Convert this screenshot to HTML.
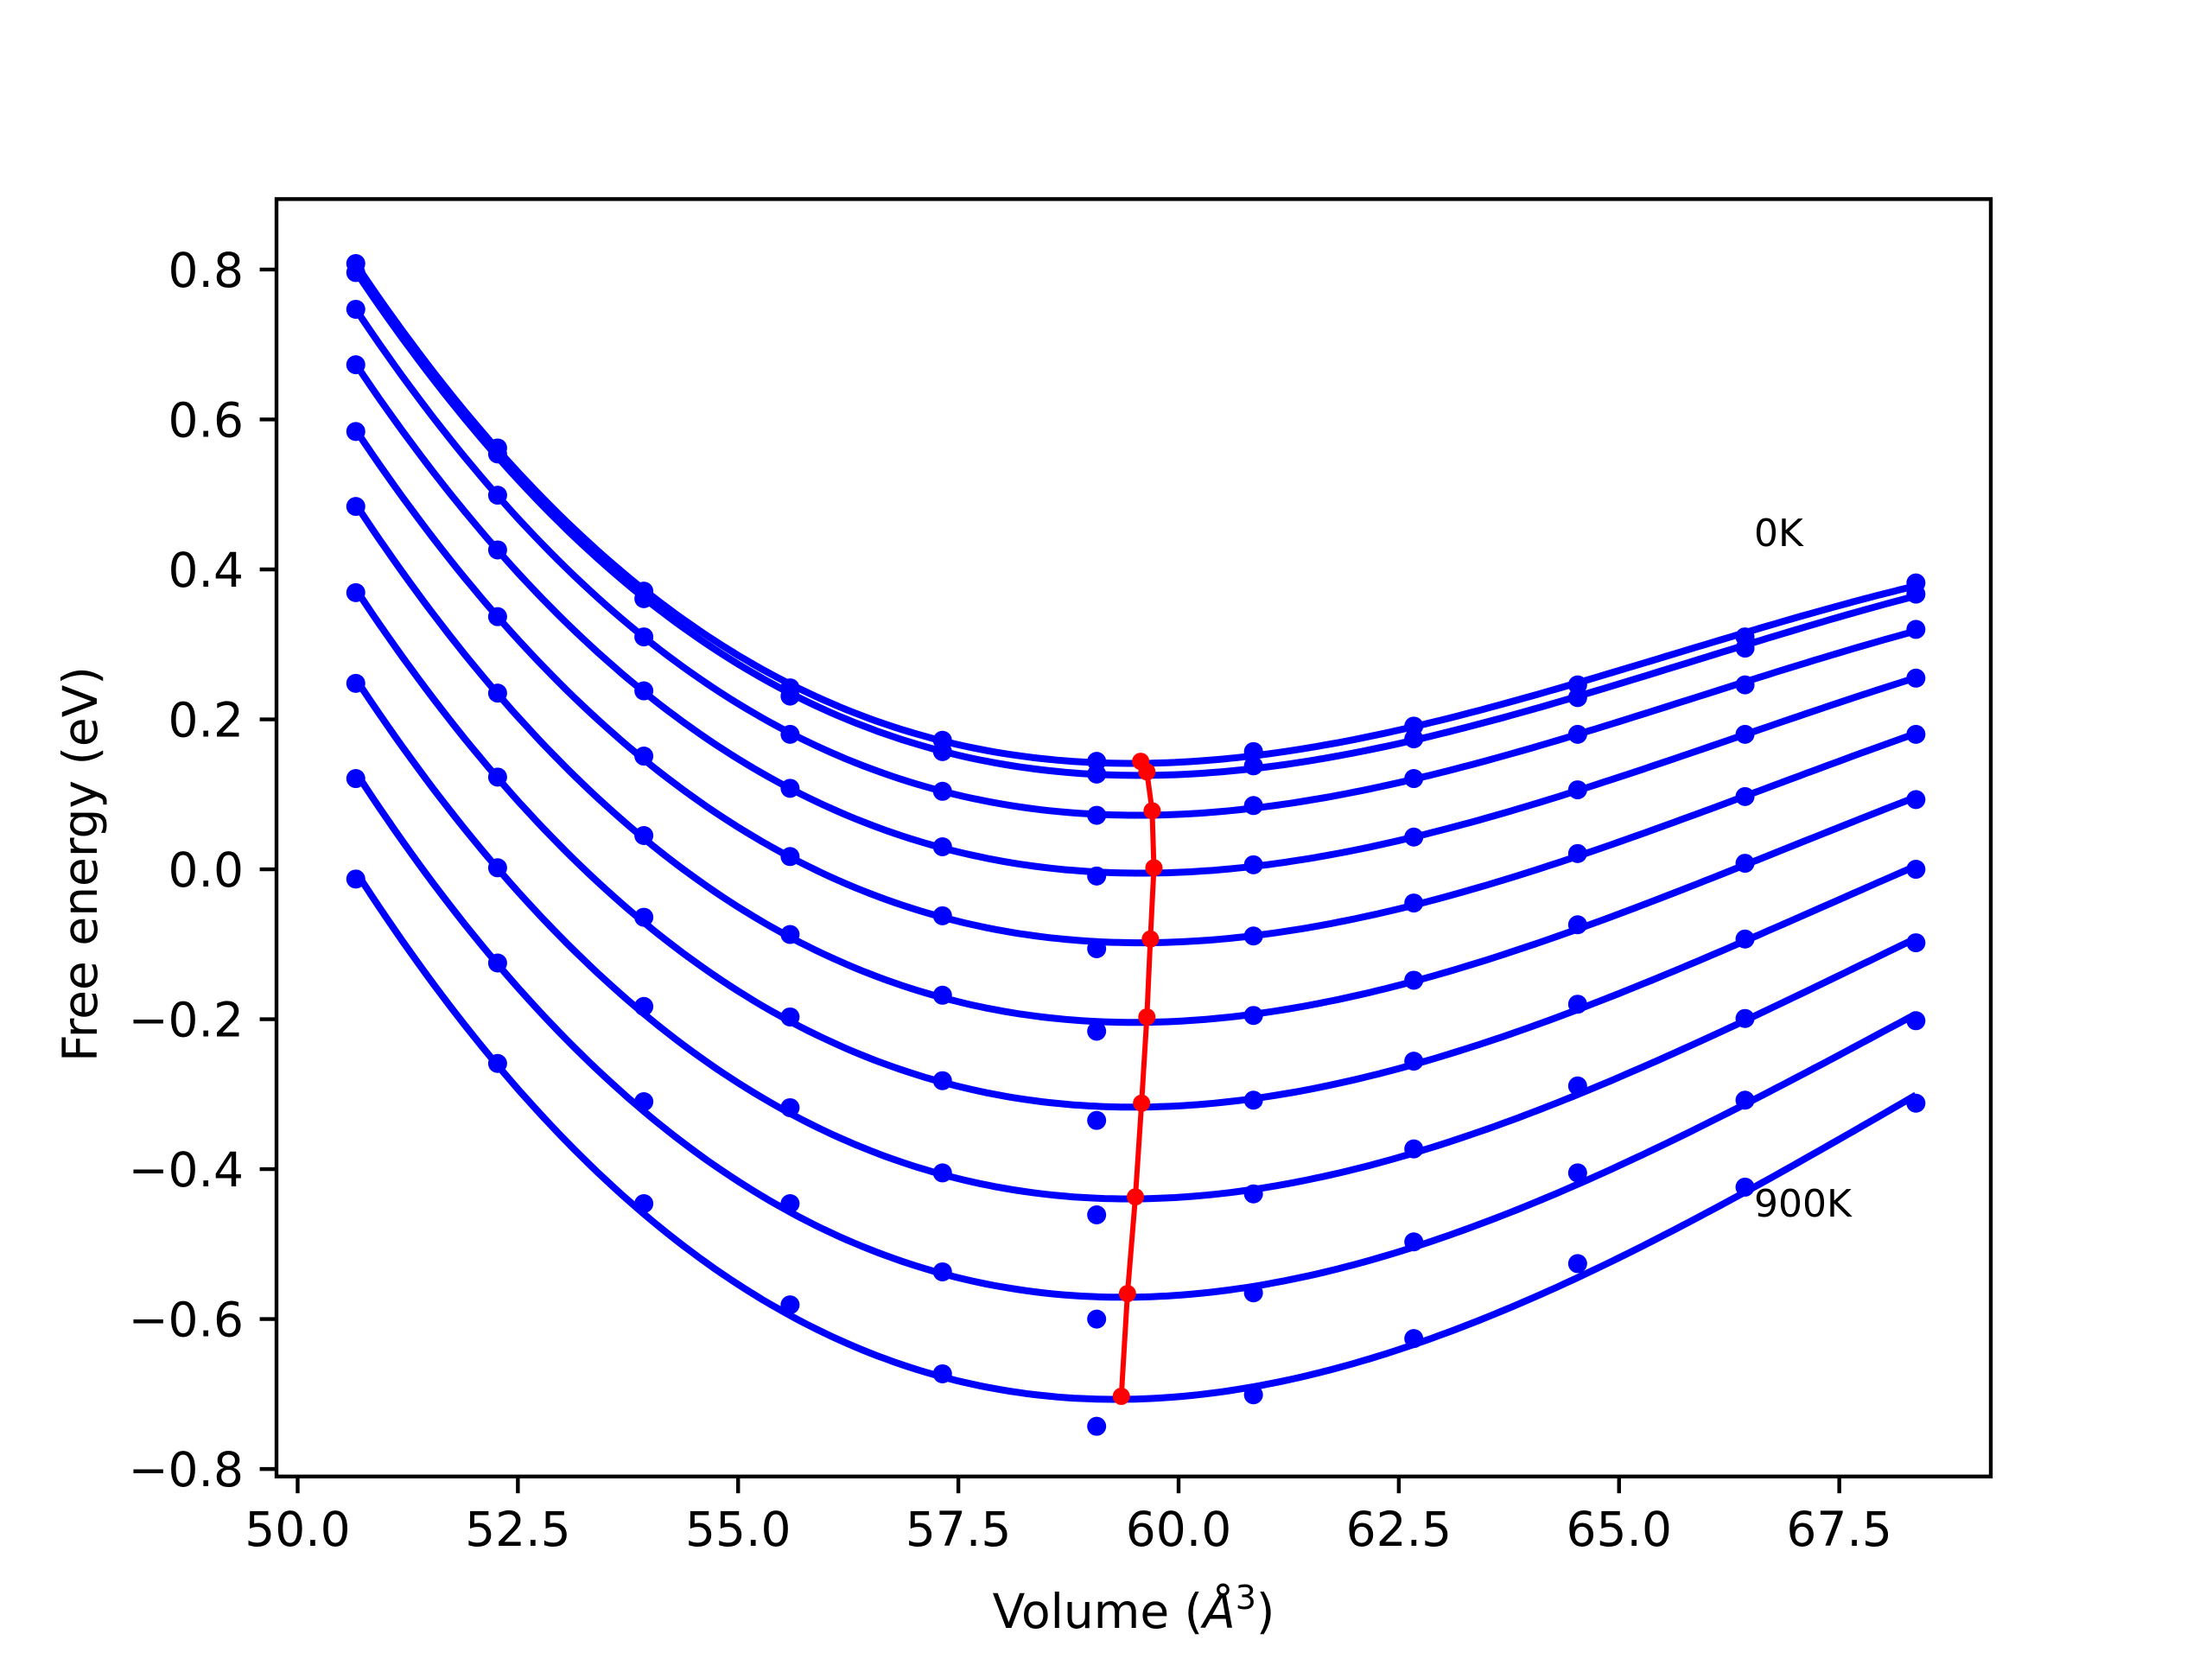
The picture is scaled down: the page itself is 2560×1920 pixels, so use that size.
<!DOCTYPE html>
<html><head><meta charset="utf-8"><style>
html,body{margin:0;padding:0;background:#fff}
svg{display:block}
text{font-family:"DejaVu Sans","Liberation Sans",sans-serif;fill:#000}
</style></head><body>
<svg id="chart" width="2560" height="1920" viewBox="0 0 2560 1920" xmlns="http://www.w3.org/2000/svg">
<rect x="0" y="0" width="2560" height="1920" fill="#fff"/>
<g id="plot"></g>
<g id="axes"></g>
<text x="2030" y="632" font-size="44">0K</text>
<text x="2030" y="1408" font-size="44">900K</text>
<text x="1312" y="1884" font-size="55" text-anchor="middle">Volume (<tspan font-style="italic">Å</tspan><tspan font-size="38" dy="-22">3</tspan><tspan dy="22">)</tspan></text>
<text transform="translate(112,1000) rotate(-90)" font-size="55" text-anchor="middle">Free energy (eV)</text>
</svg>
<script>
const volumes = [50.66, 52.27, 53.93, 55.59, 57.32, 59.07, 60.85, 62.67, 64.53, 66.43, 68.37];
const e0K   = [0.808, 0.562, 0.371, 0.242, 0.172, 0.144, 0.157, 0.191, 0.246, 0.310, 0.382];
const e100K = [0.796, 0.554, 0.361, 0.231, 0.157, 0.127, 0.138, 0.174, 0.229, 0.295, 0.367];
const e200K = [0.747, 0.499, 0.310, 0.180, 0.104, 0.072, 0.085, 0.121, 0.180, 0.246, 0.320];
const e300K = [0.673, 0.426, 0.238, 0.108, 0.030, -0.009, 0.006, 0.043, 0.106, 0.180, 0.255];
const e400K = [0.584, 0.337, 0.151, 0.017, -0.062, -0.106, -0.089, -0.045, 0.021, 0.097, 0.180];
const e500K = [0.484, 0.235, 0.045, -0.087, -0.168, -0.216, -0.195, -0.148, -0.074, 0.008, 0.093];
const e600K = [0.369, 0.123, -0.064, -0.197, -0.282, -0.335, -0.308, -0.256, -0.180, -0.093, 0.000];
const e700K = [0.248, 0.002, -0.183, -0.318, -0.405, -0.461, -0.433, -0.373, -0.289, -0.199, -0.098];
const e800K = [0.121, -0.125, -0.310, -0.446, -0.537, -0.600, -0.565, -0.497, -0.405, -0.308, -0.202];
const e900K = [-0.013, -0.259, -0.446, -0.581, -0.673, -0.743, -0.701, -0.626, -0.526, -0.424, -0.312];
const minV = [59.57, 59.64, 59.70, 59.72, 59.68, 59.64, 59.58, 59.51, 59.42, 59.35];
const minE = [0.144, 0.130, 0.078, 0.002, -0.093, -0.197, -0.312, -0.437, -0.566, -0.703];
const xTicks = [50.0, 52.5, 55.0, 57.5, 60.0, 62.5, 65.0, 67.5];
const xTickLabels = ["50.0","52.5","55.0","57.5","60.0","62.5","65.0","67.5"];
const yTicks = [-0.8, -0.6, -0.4, -0.2, 0.0, 0.2, 0.4, 0.6, 0.8];
const yTickLabels = ["\u22120.8","\u22120.6","\u22120.4","\u22120.2","0.0","0.2","0.4","0.6","0.8"];

const series = [e0K,e100K,e200K,e300K,e400K,e500K,e600K,e700K,e800K,e900K];
const L=320,R=2304,T=230.4,B=1708.8;
const xMin=49.76,xMax=69.22,yMin=-0.81,yMax=0.894;
const sx=v=>L+(v-xMin)/(xMax-xMin)*(R-L);
const sy=v=>B-(v-yMin)/(yMax-yMin)*(B-T);
const NS="http://www.w3.org/2000/svg";
const plot=document.getElementById('plot'), axes=document.getElementById('axes');
function mk(tag,attrs,parent){const e=document.createElementNS(NS,tag);for(const k in attrs)e.setAttribute(k,attrs[k]);parent.appendChild(e);return e;}

// cubic least-squares fit
function fit(xs,ys){
  const xc=xs.reduce((a,b)=>a+b,0)/xs.length;
  const n=4, A=[...Array(n)].map(()=>Array(n+1).fill(0));
  xs.forEach((x,i)=>{const t=x-xc;const p=[1,t,t*t,t*t*t];
    for(let r=0;r<n;r++){for(let c=0;c<n;c++)A[r][c]+=p[r]*p[c];A[r][n]+=p[r]*ys[i];}});
  for(let i=0;i<n;i++){let m=i;for(let k=i+1;k<n;k++)if(Math.abs(A[k][i])>Math.abs(A[m][i]))m=k;[A[i],A[m]]=[A[m],A[i]];
    for(let k=0;k<n;k++){if(k===i)continue;const f=A[k][i]/A[i][i];for(let c=i;c<=n;c++)A[k][c]-=f*A[i][c];}}
  const co=A.map((r,i)=>r[n]/r[i]);
  return x=>{const t=x-xc;return co[0]+co[1]*t+co[2]*t*t+co[3]*t*t*t;};
}

series.forEach((ys,si)=>{
  const f=fit(volumes,ys);
  const v0=volumes[0],v1=volumes[volumes.length-1];
  let d="";
  for(let i=0;i<=200;i++){const v=v0+(v1-v0)*i/200;d+=(i?"L":"M")+sx(v).toFixed(1)+","+sy(f(v)).toFixed(1);}
  const p=mk('path',{d:d,fill:'none',stroke:'#0000ff','stroke-width':8},plot);
  
  
  ys.forEach((y,i)=>{
    const c=mk('circle',{cx:sx(volumes[i]),cy:sy(y),r:11,fill:'#0000ff'},plot);
    
    
  });
});
let rd="";
minV.forEach((v,i)=>{rd+=(i?"L":"M")+sx(v)+","+sy(minE[i]);});
const rl=mk('path',{d:rd,fill:'none',stroke:'#ff0000','stroke-width':6},plot);


minV.forEach((v,i)=>{
  const c=mk('circle',{cx:sx(v),cy:sy(minE[i]),r:10,fill:'#ff0000'},plot);
  
  
});

const fr=mk('rect',{x:L,y:T,width:R-L,height:B-T,fill:'none',stroke:'#000','stroke-width':4.4},axes);


xTicks.forEach((t,i)=>{
  const x=sx(t);
  const ln=mk('line',{x1:x,x2:x,y1:B,y2:B+19.4,stroke:'#000','stroke-width':4.4},axes);
  
  
  const tx=mk('text',{x:x,y:B+80,'font-size':55,'text-anchor':'middle'},axes);
  tx.textContent=xTickLabels[i];
  
  
});
yTicks.forEach((t,i)=>{
  const y=sy(t);
  const ln=mk('line',{x1:L-19.4,x2:L,y1:y,y2:y,stroke:'#000','stroke-width':4.4},axes);
  
  
  const tx=mk('text',{x:L-38,y:y+20,'font-size':55,'text-anchor':'end'},axes);
  tx.textContent=yTickLabels[i];
  
  
});
</script>
</body></html>
